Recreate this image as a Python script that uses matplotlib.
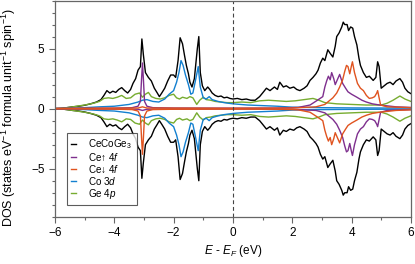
import numpy as np
import matplotlib
matplotlib.use("Agg")
import matplotlib.pyplot as plt
from matplotlib.ticker import MultipleLocator

plt.rcParams['font.family'] = ['Liberation Sans', 'DejaVu Sans']
plt.rcParams['mathtext.fontset'] = 'custom'
plt.rcParams['mathtext.rm'] = 'Liberation Sans'
plt.rcParams['mathtext.it'] = 'Liberation Sans:italic'

# total DOS, spin up (spin down is the mirror)
total_e = [-6.0, -5.8, -5.6, -5.4, -5.2, -5.0, -4.8, -4.6, -4.45, -4.35, -4.25, -4.15, -4.05,
           -3.95, -3.85, -3.75, -3.65, -3.55, -3.45, -3.37, -3.28, -3.2, -3.12, -3.07, -3.02,
           -2.95, -2.85, -2.75, -2.65, -2.55, -2.48, -2.4, -2.3, -2.2, -2.1, -2.0, -1.93, -1.85,
           -1.78, -1.7, -1.63, -1.57, -1.5, -1.45, -1.38, -1.3, -1.2, -1.15, -1.1, -1.03, -0.95,
           -0.85, -0.78, -0.7, -0.6, -0.5, -0.4, -0.3, -0.2, -0.1, 0.0, 0.15, 0.3, 0.45, 0.6,
           0.75, 0.9, 1.0, 1.13, 1.25, 1.4, 1.5, 1.58, 1.7, 1.8, 1.92, 2.05, 2.15, 2.26, 2.4,
           2.5, 2.6, 2.7, 2.8, 2.87, 2.95, 3.03, 3.1, 3.2, 3.28, 3.37, 3.45, 3.5, 3.58, 3.67,
           3.72, 3.77, 3.85, 3.9, 3.97, 4.04, 4.1, 4.18, 4.25, 4.3, 4.4, 4.5, 4.6, 4.73, 4.82,
           4.88, 4.93, 5.0, 5.1, 5.2, 5.3, 5.4, 5.5, 5.63, 5.72, 5.8, 5.9, 6.0]
total_dos = [0.0, 0.02, 0.08, 0.15, 0.2, 0.28, 0.4, 0.55, 0.75, 1.1, 1.5, 1.3, 1.45,
             1.35, 1.6, 1.75, 1.5, 1.3, 1.6, 2.1, 2.5, 3.2, 3.5, 5.8, 4.5,
             3.0, 2.6, 2.3, 1.7, 1.3, 1.0, 1.3, 1.7, 2.3, 2.8, 2.8, 2.6, 4.0,
             5.9, 5.4, 4.4, 3.6, 2.9, 2.2, 1.8, 2.5, 5.0, 6.0, 3.0, 1.9, 1.5,
             1.8, 1.6, 1.3, 1.1, 1.0, 1.05, 0.9, 0.95, 0.85, 0.8, 0.85, 0.75, 0.8, 0.7,
             0.7, 1.0, 1.3, 1.7, 1.5, 1.8, 1.6, 2.2, 1.8, 1.9, 1.7, 1.8, 1.6, 1.5, 1.7,
             1.9, 2.35, 2.6, 2.9, 3.2, 3.8, 4.2, 4.0, 4.9, 4.6, 4.3, 5.2, 6.0, 6.3, 6.8,
             7.2, 7.0, 7.0, 6.5, 6.8, 6.7, 6.0, 5.3, 4.2, 3.6, 3.0, 2.6, 2.7, 2.35, 2.6,
             3.9, 3.5, 1.7, 1.9, 2.1, 2.2, 2.0, 2.3, 2.5, 2.2, 1.7, 1.4, 1.25]

# Ce 4f, the two curves swap between the spin channels
ce_a_e = [-6.0, -4.0, -3.4, -3.2, -3.12, -3.08, -3.05, -3.02, -2.98, -2.9, -2.7, -2.0, 0.0,
          1.5, 2.2, 2.6, 2.85, 3.03, 3.1, 3.16, 3.22, 3.28, 3.33, 3.4, 3.45, 3.52, 3.6, 3.7,
          3.8, 3.88, 4.0, 4.18, 4.35, 4.5, 4.7, 4.95, 5.5, 6.0]
ce_a_dos = [0.02, 0.04, 0.08, 0.2, 0.6, 2.5, 3.8, 2.5, 0.6, 0.2, 0.08, 0.05, 0.04,
            0.05, 0.1, 0.3, 0.7, 1.0, 1.8, 2.3, 2.7, 2.4, 3.0, 2.5, 2.0, 2.4, 2.85, 2.1,
            1.7, 1.4, 1.2, 0.95, 0.7, 0.55, 0.4, 0.3, 0.15, 0.1]
ce_b_e = [-6.0, -3.2, -3.05, -2.9, 0.0, 2.0, 2.8, 3.1, 3.37, 3.5, 3.6, 3.7, 3.77, 3.83,
          3.88, 3.94, 4.0, 4.03, 4.1, 4.2, 4.3, 4.4, 4.5, 4.6, 4.7, 4.78, 4.85, 4.88, 4.93,
          4.98, 5.2, 6.0]
ce_b_dos = [0.02, 0.05, 0.15, 0.05, 0.03, 0.05, 0.15, 0.35, 0.9, 1.3, 1.8, 2.4, 3.1, 3.6,
            3.5, 2.9, 3.6, 3.9, 3.0, 2.1, 1.7, 1.5, 1.1, 0.85, 0.9, 1.0, 1.3, 1.5, 0.9,
            0.3, 0.15, 0.08]

co_e = [-6.0, -5.5, -5.0, -4.5, -4.0, -3.5, -3.2, -3.05, -2.9, -2.7, -2.5, -2.3, -2.15,
        -2.0, -1.9, -1.82, -1.75, -1.68, -1.6, -1.5, -1.42, -1.35, -1.25, -1.17, -1.1,
        -1.0, -0.9, -0.8, -0.7, -0.5, -0.3, 0.0, 0.5, 1.0, 1.5, 2.0, 3.0, 4.0, 5.0, 6.0]
co_dos = [0.0, 0.03, 0.08, 0.15, 0.2, 0.35, 0.55, 0.7, 0.75, 0.6, 0.55, 0.8, 1.2,
          1.5, 2.2, 3.0, 4.0, 3.6, 2.8, 2.0, 1.2, 1.3, 2.5, 3.5, 1.8,
          0.9, 0.8, 1.0, 0.75, 0.6, 0.5, 0.4, 0.3, 0.25, 0.2, 0.12, 0.08, 0.06, 0.05, 0.05]

ge_e = [-6.0, -5.7, -5.4, -5.0, -4.7, -4.5, -4.35, -4.2, -4.05, -3.9, -3.75, -3.6, -3.45,
        -3.3, -3.15, -3.05, -2.95, -2.85, -2.75, -2.6, -2.45, -2.3, -2.15, -2.0, -1.9, -1.8,
        -1.7, -1.55, -1.45, -1.35, -1.22, -1.12, -1.0, -0.9, -0.75, -0.6, -0.4, -0.2, 0.0,
        0.3, 0.6, 0.9, 1.2, 1.5, 1.8, 2.1, 2.4, 2.7, 2.9, 3.1, 3.5, 4.0, 4.5, 5.0, 5.2, 5.4,
        5.63, 5.8, 6.0]
ge_dos = [0.0, 0.05, 0.15, 0.3, 0.45, 0.6, 0.85, 0.9, 0.85, 0.95, 1.1, 0.85, 0.9,
          1.2, 1.3, 0.95, 1.2, 1.35, 1.0, 0.85, 0.8, 0.9, 1.1, 1.2, 0.9, 0.8,
          0.95, 0.85, 1.0, 0.9, 0.35, 0.7, 0.95, 0.75, 0.7, 0.6, 0.55, 0.5, 0.5,
          0.55, 0.5, 0.65, 0.7, 0.65, 0.6, 0.65, 0.75, 0.85, 0.7, 0.5, 0.4, 0.35, 0.3, 0.3,
          0.45, 0.7, 1.05, 0.8, 0.6]

black = 'black'
purple = '#7E2F8E'
orange = '#E0531F'
blue = '#1380D0'
green = '#77AC30'

fig = plt.figure(figsize=(4.15, 2.64), dpi=100)
ax = fig.add_axes([0.1325, 0.179, 0.8575, 0.819])

lw = 1.0
ax.plot(total_e, total_dos, color=black, lw=lw, label='CeCoGe$_3$')
ax.plot(total_e, -np.array(total_dos), color=black, lw=lw)
ax.plot(ge_e, ge_dos, color=green, lw=lw)
ax.plot(ge_e, -np.array(ge_dos), color=green, lw=lw)
ax.plot(co_e, co_dos, color=blue, lw=lw)
ax.plot(co_e, -np.array(co_dos), color=blue, lw=lw)
ax.plot(ce_a_e, ce_a_dos, color=purple, lw=lw, label='Ce\u2191 $4f$')
ax.plot(ce_b_e, -np.array(ce_b_dos), color=purple, lw=lw)
ax.plot(ce_b_e, ce_b_dos, color=orange, lw=lw, label='Ce\u2193 $4f$')
ax.plot(ce_a_e, -np.array(ce_a_dos), color=orange, lw=lw)
# legend-only handles for the partial DOS in legend order
ax.plot([], [], color=blue, lw=lw, label='Co 3$d$')
ax.plot([], [], color=green, lw=lw, label='Ge 4$p$')

ax.axvline(0, color='#444444', lw=0.8, ls=(0, (3.5, 2.5)))

ax.set_xlim(-6, 6)
ax.set_ylim(-9, 9)
ax.xaxis.set_major_locator(MultipleLocator(2))
ax.xaxis.set_minor_locator(MultipleLocator(1))
ax.yaxis.set_major_locator(MultipleLocator(5))
ax.yaxis.set_minor_locator(MultipleLocator(1))
ax.tick_params(which='both', direction='out', color='#666666', labelsize=8.5,
               top=False, right=False)
ax.tick_params(which='major', length=4, width=0.8)
ax.tick_params(which='minor', length=2.2, width=0.8)
for s in ax.spines.values():
    s.set_color('#666666')
    s.set_linewidth(0.9)

ax.set_xlabel('$E$ - $E_F$ (eV)', fontsize=8.5, labelpad=3)
ax.set_ylabel('DOS (states eV$^{-1}$ formula unit$^{-1}$ spin$^{-1}$)', fontsize=9.0)
ax.yaxis.set_label_coords(-0.105, 0.46)

leg = ax.legend(loc='lower left', bbox_to_anchor=(0.034, 0.054), borderaxespad=0,
                fontsize=7.1, handlelength=0.45, handletextpad=1.3, labelspacing=0.0,
                frameon=True, fancybox=False, borderpad=0.42)
leg.get_frame().set_edgecolor('#333333')
leg.get_frame().set_linewidth(0.8)

fig.savefig('out.png', dpi=100)
